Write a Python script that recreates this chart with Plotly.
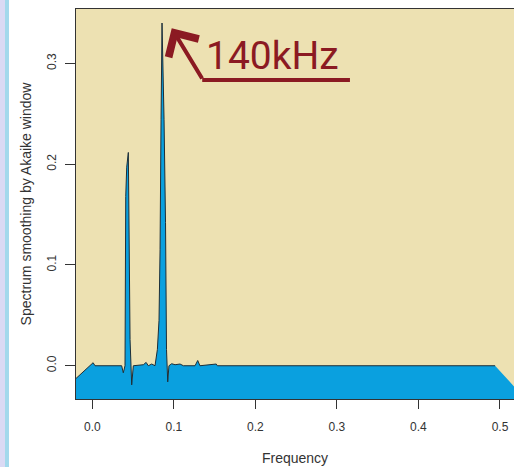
import plotly.graph_objects as go

# ---- data ----
freq = [-0.0283, 0.0010, 0.0033, 0.0360, 0.0380, 0.0401, 0.0410, 0.0422, 0.0442,
        0.0454, 0.0463, 0.0483, 0.0503, 0.0626, 0.0660, 0.0687, 0.0729, 0.0769,
        0.0798, 0.0818, 0.0831, 0.0843, 0.0855, 0.0880, 0.0898, 0.0910, 0.0925,
        0.0940, 0.0974, 0.1015, 0.1076, 0.1117, 0.1260, 0.1293, 0.1320, 0.1520,
        0.1534, 0.4940, 0.5313]
spec = [-0.0188, 0.0030, 0.0000, 0.0000, -0.0070, 0.0000, 0.1680, 0.1970, 0.2116,
        0.1250, 0.0260, -0.0190, 0.0000, 0.0010, 0.0033, 0.0000, 0.0017, 0.0000,
        0.0160, 0.0450, 0.1150, 0.2440, 0.3400, 0.2440, 0.1420, 0.0160, -0.0160,
        0.0000, 0.0020, 0.0010, 0.0017, 0.0000, 0.0000, 0.0052, 0.0000, 0.0017,
        0.0000, 0.0000, -0.0330]
x_ticks = [0.0, 0.1, 0.2, 0.3, 0.4, 0.5]
x_tick_labels = ["0.0", "0.1", "0.2", "0.3", "0.4", "0.5"]
y_ticks = [0.0, 0.1, 0.2, 0.3]
y_tick_labels = ["0.0", "0.1", "0.2", "0.3"]
x_range = [-0.02, 0.5172]
y_range = [-0.033, 0.3539]
peak_label = "140kHz"
peak_freq = 0.0974
peak_val = 0.3347

fill_floor = y_range[0] - 0.02

BEIGE = "#ede1b2"
BLUE = "#0aa0df"
RED = "#8b1a22"
AX = "#333333"

fig = go.Figure()
fig.add_trace(go.Scatter(x=[freq[0], freq[-1]], y=[fill_floor, fill_floor], mode="lines",
                         line=dict(width=0, color=BLUE), showlegend=False, hoverinfo="skip"))
fig.add_trace(go.Scatter(x=freq, y=spec, mode="lines", fill="tonexty", fillcolor=BLUE,
                         line=dict(width=0, color=BLUE), showlegend=False))
fig.add_trace(go.Scatter(x=freq[:-1], y=spec[:-1], mode="lines",
                         line=dict(width=1, color="#1d2e38"), showlegend=False))

# annotation arrow: tail, underline, text
tail_f, tail_v = 0.1358, 0.2835
fig.add_annotation(x=peak_freq, y=peak_val, ax=tail_f, ay=tail_v, axref="x", ayref="y",
                   xref="x", yref="y", text="", showarrow=True, arrowhead=4,
                   arrowsize=1.7, arrowwidth=4, arrowcolor=RED)
fig.add_shape(type="line", xref="x", yref="y", x0=tail_f - 0.001, y0=tail_v, x1=0.316, y1=tail_v,
              line=dict(color=RED, width=4))
fig.add_annotation(x=0.2216, y=0.307, xref="x", yref="y", text=peak_label, showarrow=False,
                   font=dict(family="Roboto, sans-serif", size=39, color=RED),
                   xanchor="center", yanchor="middle")

# left decorative strip
fig.add_shape(type="rect", xref="paper", yref="paper", x0=-0.18, x1=-0.1621, y0=-0.2, y1=1.05,
              fillcolor="#dadaf4", line=dict(width=0), layer="below")
fig.add_shape(type="rect", xref="paper", yref="paper", x0=-0.1621, x1=-0.153, y0=-0.2, y1=1.05,
              fillcolor="#a3d9ec", line=dict(width=0), layer="below")

font = dict(family="Liberation Sans, Arial, sans-serif", size=12, color=AX)
fig.update_layout(
    width=514, height=467,
    margin=dict(l=76, r=0, t=9, b=68),
    paper_bgcolor="white", plot_bgcolor=BEIGE,
    font=font,
    xaxis=dict(range=x_range, tickvals=x_ticks, ticktext=x_tick_labels, ticks="outside",
               ticklen=9, tickwidth=1, tickcolor=AX, showline=True, linecolor=AX, linewidth=1,
               mirror=True, showgrid=False, zeroline=False, ticklabelstandoff=8,
               title=dict(text="Frequency", standoff=19)),
    yaxis=dict(range=y_range, tickvals=y_ticks, ticktext=y_tick_labels, ticks="outside",
               ticklen=10, tickwidth=1, tickcolor=AX, showline=True, linecolor=AX, linewidth=1,
               showgrid=False, zeroline=False, tickangle=-90, ticklabelstandoff=4,
               title=dict(text="Spectrum smoothing by Akaike window", standoff=10)),
)
fig.write_html("out.html", config={"displayModeBar": False},
               post_script="document.body.style.margin='0px';")
